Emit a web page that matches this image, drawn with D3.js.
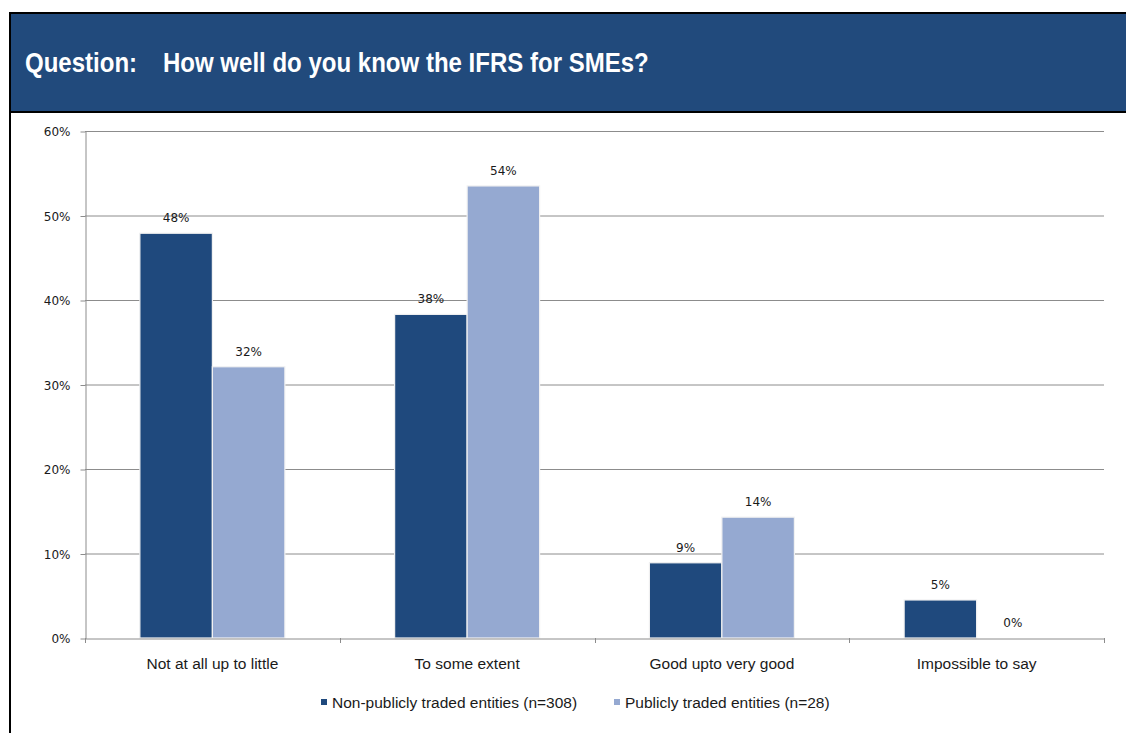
<!DOCTYPE html>
<html>
<head>
<meta charset="utf-8">
<script src="https://cdn.jsdelivr.net/npm/d3@7"></script>
<style>
  html, body { margin: 0; padding: 0; background: #fff; }
  svg { display: block; }
</style>
</head>
<body>
<svg id="chart" width="1126" height="733"></svg>
<script>
// Survey answers, in percent of respondents
const categories = ["Not at all up to little", "To some extent", "Good upto very good", "Impossible to say"];
const seriesNames = ["Non-publicly traded entities (n=308)", "Publicly traded entities (n=28)"];
const nonPublic = [47.9, 38.3, 8.9, 4.5];
const publicEnt = [32.1, 53.5, 14.3, 0];
const yTicks = [0, 10, 20, 30, 40, 50, 60];

const colors = ["#1F497D", "#95A9D1"];
const svg = d3.select("#chart");

// Header band with the question
svg.append("rect").attr("x", 10).attr("y", 13).attr("width", 1130).attr("height", 99)
  .attr("fill", "#214A7C").attr("stroke", "#000").attr("stroke-width", 2);
svg.append("line").attr("x1", 10).attr("x2", 10).attr("y1", 12).attr("y2", 733)
  .attr("stroke", "#000").attr("stroke-width", 2);

const titleFont = "'Liberation Sans', Arial, sans-serif";
const titleParts = [{ x: 25, t: "Question:" }, { x: 163, t: "How well do you know the IFRS for SMEs?" }];
svg.append("g").selectAll("text").data(titleParts).join("text")
  .attr("transform", d => `translate(${d.x},72) scale(0.89,1)`)
  .attr("fill", "#fff")
  .attr("font-family", titleFont).attr("font-weight", "bold").attr("font-size", 27)
  .text(d => d.t);

// Plot area
const plotLeft = 85, plotRight = 1104, plotTop = 131, plotBottom = 638;
const x = d3.scaleBand().domain(categories).range([plotLeft, plotRight]).padding(0);
const y = d3.scaleLinear().domain([0, 60]).range([plotBottom, plotTop]);
const x1 = d3.scaleBand().domain([0, 1]).range([0, 145]).padding(0);

const labelFont = "'DejaVu Sans', Verdana, sans-serif";
const textFont = "'Liberation Sans', Arial, sans-serif";

// Gridlines
svg.append("g").selectAll("line").data(yTicks.slice(1)).join("line")
  .attr("x1", plotLeft).attr("x2", plotRight)
  .attr("y1", d => y(d) + 0.5).attr("y2", d => y(d) + 0.5)
  .attr("stroke", "#8c8c8c").attr("stroke-width", 1);

// Y axis
const yAxis = d3.axisLeft(y).tickValues(yTicks).tickSize(5).tickSizeOuter(0)
  .tickFormat(d => d + "%");
const gy = svg.append("g").attr("transform", `translate(${plotLeft + 0.5},0.5)`).call(yAxis);
gy.select(".domain").attr("stroke", "#8c8c8c");
gy.selectAll(".tick line").attr("stroke", "#8c8c8c");
gy.selectAll(".tick text").attr("x", -15).attr("dy", "0.35em")
  .attr("font-family", labelFont).attr("font-size", 12).attr("fill", "#1a1a1a");

// Bars
const rows = categories.map((c, i) => ({ cat: c, vals: [nonPublic[i], publicEnt[i]] }));
const groups = svg.append("g").selectAll("g").data(rows).join("g")
  .attr("transform", d => `translate(${x(d.cat) + (x.bandwidth() - 145) / 2},0)`);

groups.selectAll("rect").data(d => d.vals.map((v, k) => ({ v, k }))).join("rect")
  .attr("x", d => x1(d.k))
  .attr("y", d => y(d.v))
  .attr("width", x1.bandwidth())
  .attr("height", d => y(0) - y(d.v))
  .attr("fill", d => colors[d.k])
  .attr("stroke", "#f2f2f2").attr("stroke-width", 1.2);

groups.selectAll("text").data(d => d.vals.map((v, k) => ({ v, k }))).join("text")
  .attr("x", d => x1(d.k) + x1.bandwidth() / 2)
  .attr("y", d => y(d.v) - 11)
  .attr("text-anchor", "middle")
  .attr("font-family", labelFont).attr("font-size", 12).attr("fill", "#1a1a1a")
  .text(d => Math.round(d.v) + "%");

// X axis
const xAxis = d3.axisBottom(x).tickSize(0).tickSizeOuter(0);
const gx = svg.append("g").attr("transform", `translate(0,${plotBottom + 0.5})`).call(xAxis);
gx.select(".domain").attr("stroke", "#8c8c8c");
gx.selectAll(".tick text").attr("y", 30).attr("dy", 0)
  .attr("font-family", textFont).attr("font-size", 15.5).attr("fill", "#1a1a1a");
// Category separator ticks
svg.append("g").selectAll("line").data(categories.map(c => x(c)).concat([plotRight])).join("line")
  .attr("x1", d => Math.round(d) + 0.5).attr("x2", d => Math.round(d) + 0.5)
  .attr("y1", plotBottom).attr("y2", plotBottom + 5)
  .attr("stroke", "#8c8c8c");

// Legend
const legendX = [321, 614];
const legend = svg.append("g").selectAll("g").data(seriesNames).join("g")
  .attr("transform", (d, i) => `translate(${legendX[i]},699)`);
legend.append("rect").attr("width", 6).attr("height", 6).attr("fill", (d, i) => colors[i]);
legend.append("text").attr("x", 11).attr("y", 9)
  .attr("font-family", textFont).attr("font-size", 15.5).attr("fill", "#1a1a1a")
  .text(d => d);
</script>
</body>
</html>
